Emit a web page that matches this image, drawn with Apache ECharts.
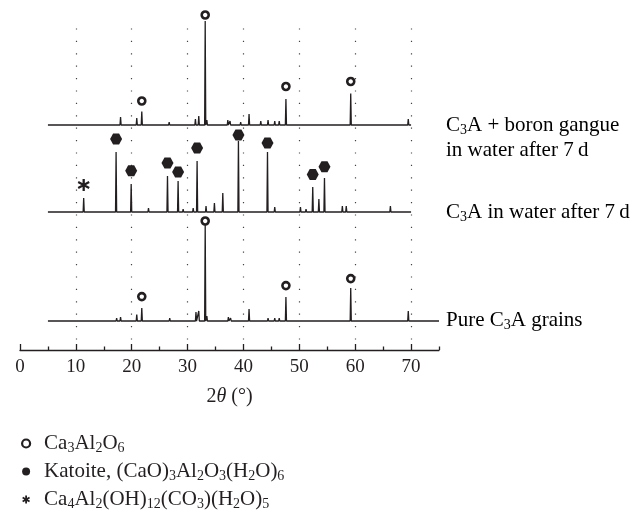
<!DOCTYPE html>
<html>
<head>
<meta charset="utf-8">
<script src="https://cdn.jsdelivr.net/npm/echarts@6/dist/echarts.min.js"></script>
<style>
html,body{margin:0;padding:0;background:#fff;}
#chart{width:638px;height:523px;}
</style>
</head>
<body>
<div id="chart"></div>
<script>
// ---- Data (2θ in degrees, intensity in arbitrary units above each trace's baseline) ----
const xTickValues = [0, 10, 20, 30, 40, 50, 60, 70];
const xMinorTickValues = [5, 15, 25, 35, 45, 55, 65, 75];
const xGridValues = [10, 20, 30, 40, 50, 60, 70];

// Pure C3A grains
const purePeaks = [
  [12.8, 2], [17.3, 3], [18.0, 4], [20.9, 6.5], [21.8, 13], [23.9, 1], [26.8, 3],
  [29.2, 2], [31.5, 9], [32.0, 10], [33.15, 97], [33.45, 5], [37.3, 4], [37.7, 3],
  [41.0, 12], [44.4, 3], [45.6, 3], [46.4, 3], [47.6, 24], [48.3, 2], [49.9, 2],
  [53.0, 1.5], [56.5, 1.5], [59.2, 33], [62.5, 1], [66.0, 1], [69.5, 10]
];
// C3A in water after 7 d
const waterPeaks = [
  [11.4, 14], [17.2, 60], [17.9, 2], [19.9, 28], [23.0, 4], [26.4, 36], [28.3, 31],
  [29.2, 3], [31.0, 4], [31.7, 51], [33.3, 6], [34.8, 9], [36.3, 19], [39.1, 71],
  [40.5, 2], [44.3, 60], [45.6, 5], [50.2, 5], [51.2, 3], [52.4, 25], [53.5, 13],
  [54.5, 34], [57.7, 6], [58.4, 6], [66.3, 6], [69.1, 2]
];
// C3A + boron gangue in water after 7 d
const boronPeaks = [
  [13.0, 1.5], [14.1, 1], [17.3, 2], [18.0, 8], [19.3, 2], [20.9, 7], [21.8, 13.5],
  [23.9, 1.5], [26.7, 3], [29.2, 2], [31.4, 6], [32.0, 9], [33.15, 104], [33.45, 5],
  [37.2, 5], [37.6, 4], [38.2, 2], [39.5, 3], [41.0, 11], [43.1, 4], [44.4, 5],
  [45.6, 4], [46.4, 4], [47.6, 26], [48.9, 2], [49.8, 2], [54.2, 2], [59.2, 31.5],
  [64.0, 1], [69.5, 6]
];

// Phase markers: [2θ, marker level above the trace baseline]
const c3aMarksPure = [[21.8, 24.4], [33.15, 100], [47.6, 35.4], [59.2, 42.4]];
const c3aMarksBoron = [[21.8, 24], [33.15, 110], [47.6, 38.5], [59.2, 43.5]];
const katoiteMarksWater = [[17.2, 73], [19.9, 41.3], [26.4, 49], [28.3, 40], [31.7, 64],
  [39.1, 77], [44.3, 69], [52.4, 37.5], [54.5, 45.3]];
const carboMarksWater = [[11.4, 27]];

// Names
const traceNames = ['Pure C3A grains', 'C3A in water after 7 d', 'C3A + boron gangue in water after 7 d'];
const phaseNames = ['Ca3Al2O6', 'Katoite', 'Ca4Al2(OH)12(CO3)(H2O)5'];

// ---- Layout / style constants ----
const offsets = { pure: 29, water: 138, boron: 225 };
const scanStart = 5, scanEnd = 70, pureEnd = 75;
const halfWidth = 0.1;
const INK = '#231f20';
const FONT = 'Liberation Serif';

function buildTrace(peaks, offset, start, end) {
  const sorted = peaks.slice().sort((a, b) => a[0] - b[0]);
  const pts = [[start, offset]];
  sorted.forEach(([p, h]) => {
    pts.push([p - halfWidth, offset], [p, offset + h], [p + halfWidth, offset]);
  });
  pts.push([end, offset]);
  return pts;
}
function shift(marks, offset) {
  return marks.map(([x, y]) => [x, offset + y]);
}

const richLabel = {
  t: { fontFamily: FONT, fontSize: 21, lineHeight: 24, color: INK },
  s: { fontFamily: FONT, fontSize: 14, lineHeight: 9, color: INK, verticalAlign: 'bottom' }
};

const legendText = {
  'Ca3Al2O6': '{t|Ca}{s|3}{t|Al}{s|2}{t|O}{s|6}',
  'Katoite': '{t|Katoite, (CaO)}{s|3}{t|Al}{s|2}{t|O}{s|3}{t|(H}{s|2}{t|O)}{s|6}',
  'Ca4Al2(OH)12(CO3)(H2O)5': '{t|Ca}{s|4}{t|Al}{s|2}{t|(OH)}{s|12}{t|(CO}{s|3}{t|)(H}{s|2}{t|O)}{s|5}'
};

const hexPath = 'path://M-1,0L-0.5,-0.866L0.5,-0.866L1,0L0.5,0.866L-0.5,0.866Z';
const starPath = 'path://M0,-1L0,1M-0.866,-0.5L0.866,0.5M-0.866,0.5L0.866,-0.5';

const chart = echarts.init(document.getElementById('chart'), null, { renderer: 'canvas' });

const option = {
  animation: false,
  backgroundColor: '#ffffff',
  grid: { left: 20, right: 199, top: 18, bottom: 173, containLabel: false },
  xAxis: [
    {
      type: 'value', min: 0, max: 75, position: 'bottom',
      name: '{n|2}{i|\u03b8}{n| (°)}', nameLocation: 'middle', nameGap: 37,
      nameTextStyle: {
        fontFamily: FONT, fontSize: 20, color: INK,
        rich: {
          i: { fontFamily: FONT, fontSize: 20, fontStyle: 'italic', color: INK },
          n: { fontFamily: FONT, fontSize: 20, color: INK }
        }
      },
      axisLine: { show: true, lineStyle: { color: INK, width: 1.3 } },
      axisTick: { show: true, inside: true, length: 6, customValues: xTickValues, lineStyle: { color: INK, width: 1.3 } },
      axisLabel: { show: true, customValues: xTickValues, margin: 8, fontFamily: FONT, fontSize: 19, color: INK },
      splitLine: { show: false }
    },
    {
      type: 'value', min: 0, max: 75, position: 'bottom', offset: 0,
      axisLine: { show: false },
      axisTick: { show: true, inside: true, length: 3.5, customValues: xMinorTickValues, lineStyle: { color: INK, width: 1.3 } },
      axisLabel: { show: false },
      splitLine: { show: false }
    },
    {
      type: 'value', min: 0, max: 75, position: 'bottom', offset: 0,
      axisLine: { show: false },
      axisTick: { show: false, customValues: xGridValues },
      axisLabel: { show: false },
      splitLine: { show: true, lineStyle: { color: '#444', width: 1.2, type: [1.2, 11.2], dashOffset: 2 } }
    }
  ],
  yAxis: { type: 'value', min: 0, max: 332, show: false },
  legend: {
    orient: 'vertical', left: 16, top: 428, itemGap: 5.5,
    itemWidth: 8, itemHeight: 8,
    selectedMode: false,
    formatter: name => legendText[name],
    textStyle: { rich: richLabel, fontFamily: FONT, fontSize: 21, color: INK, padding: [0, 0, 0, 9] },
    data: [
      { name: 'Ca3Al2O6', icon: 'circle', itemStyle: { color: '#fff', borderColor: INK, borderWidth: 2.2 } },
      { name: 'Katoite', icon: 'circle', itemStyle: { color: INK, borderWidth: 0 } },
      { name: 'Ca4Al2(OH)12(CO3)(H2O)5', icon: starPath, itemStyle: { color: INK, borderColor: INK, borderWidth: 1.8 } }
    ]
  },
  series: [
    {
      name: traceNames[0], type: 'line', xAxisIndex: 0, showSymbol: false, symbol: 'none',
      lineStyle: { color: INK, width: 1.3 }, data: buildTrace(purePeaks, offsets.pure, scanStart, pureEnd)
    },
    {
      name: traceNames[1], type: 'line', xAxisIndex: 0, showSymbol: false, symbol: 'none',
      lineStyle: { color: INK, width: 1.3 }, data: buildTrace(waterPeaks, offsets.water, scanStart, scanEnd)
    },
    {
      name: traceNames[2], type: 'line', xAxisIndex: 0, showSymbol: false, symbol: 'none',
      lineStyle: { color: INK, width: 1.3 }, data: buildTrace(boronPeaks, offsets.boron, scanStart, scanEnd)
    },
    {
      name: phaseNames[0], type: 'scatter', xAxisIndex: 0, symbol: 'circle', symbolSize: 7, clip: false, z: 5,
      itemStyle: { color: '#fff', borderColor: INK, borderWidth: 2.6, opacity: 1 },
      data: shift(c3aMarksPure, offsets.pure).concat(shift(c3aMarksBoron, offsets.boron))
    },
    {
      name: phaseNames[1], type: 'scatter', xAxisIndex: 0, symbol: hexPath, symbolSize: [12, 11], clip: false, z: 5,
      itemStyle: { color: INK, opacity: 1 },
      data: shift(katoiteMarksWater, offsets.water)
    },
    {
      name: phaseNames[2], type: 'scatter', xAxisIndex: 0, symbol: starPath, symbolSize: [11, 12], clip: false, z: 5,
      itemStyle: { color: INK, borderColor: INK, borderWidth: 2.4, opacity: 1 },
      data: shift(carboMarksWater, offsets.water)
    }
  ],
  graphic: [
    { type: 'text', x: 446, y: 125, style: { text: '{t|C}{s|3}{t|A + boron gangue}', rich: richLabel, verticalAlign: 'middle' } },
    { type: 'text', x: 446, y: 150, style: { text: '{t|in water after 7\u2009d}', rich: richLabel, verticalAlign: 'middle' } },
    { type: 'text', x: 446, y: 212, style: { text: '{t|C}{s|3}{t|A in water after 7\u2009d}', rich: richLabel, verticalAlign: 'middle' } },
    { type: 'text', x: 446, y: 320, style: { text: '{t|Pure C}{s|3}{t|A grains}', rich: richLabel, verticalAlign: 'middle' } }
  ]
};
chart.setOption(option);
</script>
</body>
</html>
